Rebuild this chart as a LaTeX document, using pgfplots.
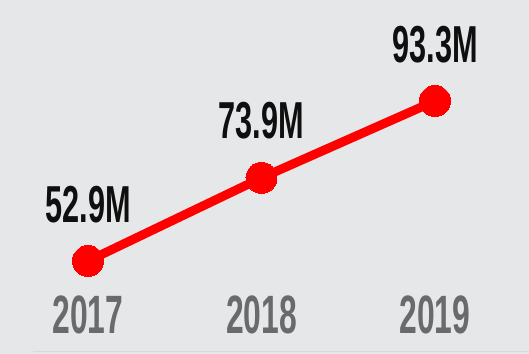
\documentclass[border=0pt]{standalone}
\usepackage{fontspec}
\usepackage{pgfplots}
\pgfplotsset{compat=1.18}
\newfontfamily\cond{Liberation Sans}[FakeStretch=0.59]
\definecolor{bg}{RGB}{230,231,233}
\definecolor{lred}{RGB}{255,0,0}
\definecolor{yeargray}{RGB}{106,106,106}
\definecolor{valblack}{RGB}{15,15,15}
\begin{document}
\begin{tikzpicture}
\begin{axis}[
  scale only axis,
  width=529pt, height=354pt,
  xmin=-0.5072, xmax=2.5418,
  ymin=29.42, ymax=118.81,
  axis line style={draw=none},
  axis background/.style={fill=bg},
  ytick=\empty,
  xtick=data,
  xticklabels={2017,2018,2019},
  major tick length=0pt,
  x tick label style={anchor=base, yshift=20pt, inner sep=0pt, text=yeargray,
    font=\cond\bfseries\fontsize{54}{60}\selectfont},
  clip=false,
  nodes near coords,
  point meta=explicit symbolic,
  every node near coord/.append style={anchor=base, yshift=39pt, inner sep=0pt,
    text=valblack, font=\cond\bfseries\fontsize{52}{58}\selectfont},
]
\addplot[lred, line width=9pt, mark=*, mark size=15.5pt,
  mark options={fill=lred, draw=lred, line width=0pt}]
  coordinates {(0,52.9)[52.9M] (1,73.9)[73.9M] (2,93.3)[93.3M]};
\draw[color=black!15, line width=0.8pt] (axis description cs:0.062,0.006) -- (axis description cs:1,0.006);
\end{axis}
\pgfresetboundingbox
\useasboundingbox (current axis.south west) rectangle (current axis.north east);
\end{tikzpicture}
\end{document}
